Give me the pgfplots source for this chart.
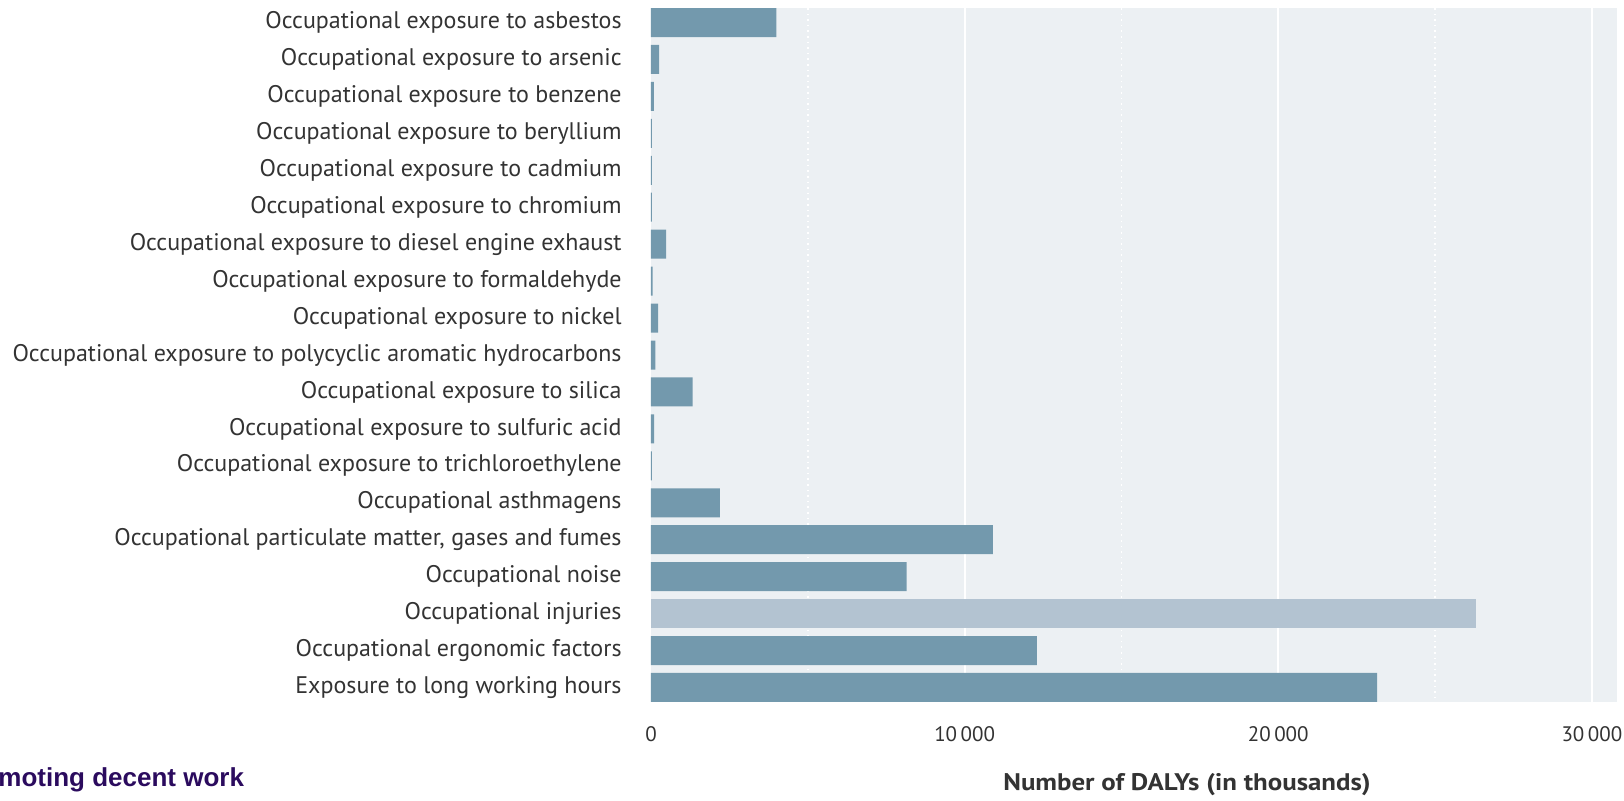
\documentclass[border=0pt]{standalone}
\usepackage{pgfplots}
\pgfplotsset{compat=1.18}
\usepackage{fontspec}
\setmainfont{PT Sans}
\newfontfamily\arialfont{Liberation Sans}
\definecolor{bgc}{HTML}{ECF0F3}
\definecolor{barc}{HTML}{7399AD}
\definecolor{injc}{HTML}{B3C3D1}
\definecolor{txt}{HTML}{333333}
\definecolor{purp}{HTML}{2B0B5E}
\begin{document}
\begin{tikzpicture}
\useasboundingbox (0,0) rectangle (812pt,400pt);
\begin{axis}[
  at={(325.5pt,49pt)}, anchor=south west,
  width=483pt, height=347pt, scale only axis,
  xmin=0, xmax=30800, ymin=-0.393, ymax=18.393,
  y dir=reverse,
  scaled x ticks=false,
  axis line style={draw=none},
  axis background/.style={fill=bgc},
  major tick length=0pt, minor tick length=0pt,
  xtick={10000,20000,30000},
  xticklabels={10\,000,20\,000,30\,000},
  extra x ticks={0},
  extra x tick labels={0},
  extra x tick style={grid=none},
  minor xtick={5000,15000,25000},
  xmajorgrids, xminorgrids,
  major grid style={white, line width=1pt},
  minor grid style={white, line width=0.8pt, dotted},
  xticklabel style={anchor=center, inner sep=0pt, yshift=-16pt, text=txt, font=\fontsize{10.5}{12}\selectfont},
  ytick={0,...,18},
  yticklabels={
    Occupational exposure to asbestos,
    Occupational exposure to arsenic,
    Occupational exposure to benzene,
    Occupational exposure to beryllium,
    Occupational exposure to cadmium,
    Occupational exposure to chromium,
    Occupational exposure to diesel engine exhaust,
    Occupational exposure to formaldehyde,
    Occupational exposure to nickel,
    Occupational exposure to polycyclic aromatic hydrocarbons,
    Occupational exposure to silica,
    Occupational exposure to sulfuric acid,
    Occupational exposure to trichloroethylene,
    Occupational asthmagens,
    {Occupational particulate matter, gases and fumes},
    Occupational noise,
    Occupational injuries,
    Occupational ergonomic factors,
    Exposure to long working hours},
  yticklabel style={anchor=east, inner sep=0pt, xshift=-14.5pt, text=txt, font=\fontsize{12}{14}\selectfont},
  xlabel={\scalebox{1.12}[1]{Number of DALYs (in thousands)}},
  xlabel style={at={(axis description cs:0.5549,0)}, anchor=center, yshift=-41.5pt, inner sep=0pt, text=txt, font=\bfseries\fontsize{12}{14}\selectfont},
]
\addplot[xbar, bar shift=0pt, bar width=14.5pt, fill=barc, draw=none] coordinates {
  (4000,0) (260,1) (90,2) (30,3) (30,4) (25,5) (480,6) (50,7) (225,8) (140,9)
  (1330,10) (100,11) (25,12) (2200,13) (10900,14) (8150,15) (12300,17) (23150,18)
};
\addplot[xbar, bar shift=0pt, bar width=14.5pt, fill=injc, draw=none] coordinates {
  (26300,16)
};
\end{axis}
\node[anchor=base west, inner sep=0pt, text=purp, font=\arialfont\bfseries\fontsize{13}{16}\selectfont] at (-1pt,7pt) {moting decent work};
\end{tikzpicture}
\end{document}
